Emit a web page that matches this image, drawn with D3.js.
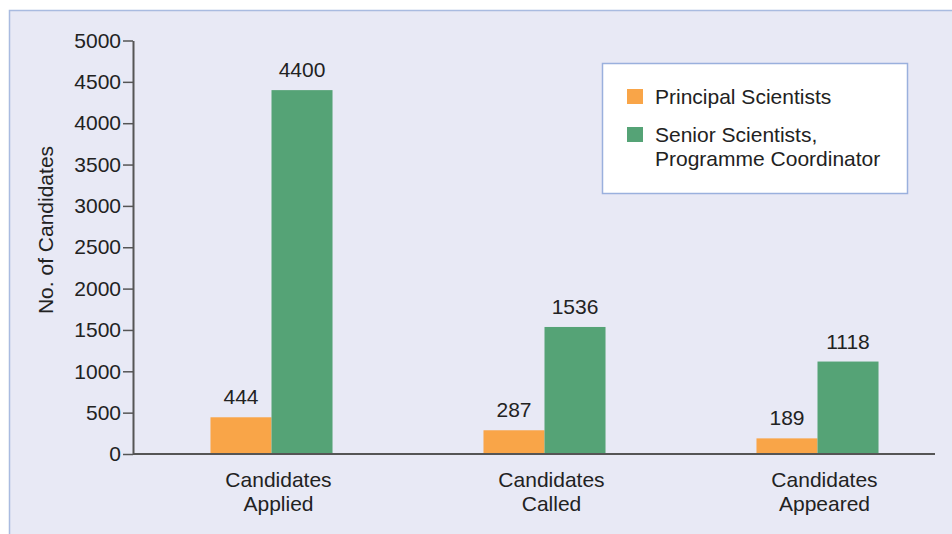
<!DOCTYPE html>
<html lang="en">
<head>
<meta charset="utf-8">
<title>Candidates chart</title>
<script src="https://cdn.jsdelivr.net/npm/d3@7"></script>
<style>
  body { margin: 0; background: #ffffff; }
  svg { display: block; font-family: "Liberation Sans", Arial, sans-serif; }
</style>
</head>
<body>
<script>
// data
var categories = [["Candidates", "Applied"], ["Candidates", "Called"], ["Candidates", "Appeared"]];
var seriesNames = ["Principal Scientists", "Senior Scientists,|Programme Coordinator"];
var principal = [444, 287, 189];
var senior = [4400, 1536, 1118];
var yTicks = [0, 500, 1000, 1500, 2000, 2500, 3000, 3500, 4000, 4500, 5000];
var colors = ["#f9a548", "#55a376"];

var w = 952, h = 534;
var fs = "21px";

var svg = d3.select("body").append("svg")
    .attr("width", w)
    .attr("height", h);

// panel background
svg.append("rect")
    .attr("x", 9.5).attr("y", 10.5)
    .attr("width", w).attr("height", h)
    .attr("fill", "#e8e9f5")
    .attr("stroke", "#a9bbe0")
    .attr("stroke-width", 1.5);

var yScale = d3.scaleLinear().domain([0, 5000]).range([454, 40.5]);

var xScale = d3.scaleBand()
    .domain(d3.range(categories.length))
    .range([135, 954])
    .paddingInner(0.553)
    .paddingOuter(0.2765);

var xSub = d3.scaleBand().domain([0, 1]).range([0, xScale.bandwidth()]);

// y axis
var yAxis = d3.axisLeft(yScale)
    .tickValues(yTicks)
    .tickFormat(d3.format("d"))
    .tickSize(10)
    .tickSizeOuter(0)
    .tickPadding(2);

var gy = svg.append("g")
    .attr("transform", "translate(133,0)")
    .call(yAxis);
gy.select(".domain").attr("stroke", "#555").attr("stroke-width", 2);
gy.selectAll(".tick line").attr("stroke", "#555").attr("stroke-width", 1.5);
gy.selectAll(".tick text")
    .attr("font-size", fs)
    .attr("fill", "#222")
    .attr("font-family", "Liberation Sans, Arial, sans-serif");

// baseline
svg.append("line")
    .attr("x1", 133).attr("x2", 935)
    .attr("y1", yScale(0)).attr("y2", yScale(0))
    .attr("stroke", "#555").attr("stroke-width", 2);

// bars
var groups = svg.selectAll("g.grp")
    .data(categories)
    .enter()
    .append("g")
    .attr("class", "grp")
    .attr("transform", function(d, i) { return "translate(" + xScale(i) + ",0)"; });

groups.each(function(d, i) {
    var g = d3.select(this);
    var vals = [principal[i], senior[i]];
    vals.forEach(function(v, j) {
        g.append("rect")
            .attr("x", xSub(j))
            .attr("y", yScale(v))
            .attr("width", xSub.bandwidth())
            .attr("height", yScale(0) - yScale(v) - 1)
            .attr("fill", colors[j]);
        g.append("text")
            .attr("x", xSub(j) + xSub.bandwidth() / 2)
            .attr("y", yScale(v) - 13)
            .attr("text-anchor", "middle")
            .attr("font-size", fs)
            .attr("fill", "#222")
            .text(v);
    });
    var lab = g.append("text")
        .attr("x", xScale.bandwidth() / 2 + 7)
        .attr("y", 487)
        .attr("text-anchor", "middle")
        .attr("font-size", fs)
        .attr("fill", "#222");
    d.forEach(function(line, k) {
        lab.append("tspan")
            .attr("x", xScale.bandwidth() / 2 + 7)
            .attr("dy", k === 0 ? 0 : 24)
            .text(line);
    });
});

// y label
svg.append("text")
    .attr("transform", "translate(53,230) rotate(-90)")
    .attr("text-anchor", "middle")
    .attr("font-size", fs)
    .attr("fill", "#222")
    .text("No. of Candidates");

// legend
var legend = svg.append("g");
legend.append("rect")
    .attr("x", 602.5).attr("y", 63.5)
    .attr("width", 305).attr("height", 130)
    .attr("fill", "#ffffff")
    .attr("stroke", "#9ab0dd")
    .attr("stroke-width", 1.5);

var legendY = [89, 127];
seriesNames.forEach(function(name, j) {
    legend.append("rect")
        .attr("x", 627).attr("y", legendY[j])
        .attr("width", 16).attr("height", 15)
        .attr("fill", colors[j]);
    var t = legend.append("text")
        .attr("x", 655).attr("y", legendY[j] + 15)
        .attr("font-size", fs)
        .attr("fill", "#222");
    name.split("|").forEach(function(line, k) {
        t.append("tspan")
            .attr("x", 655)
            .attr("dy", k === 0 ? 0 : 24)
            .text(line);
    });
});
</script>
</body>
</html>
